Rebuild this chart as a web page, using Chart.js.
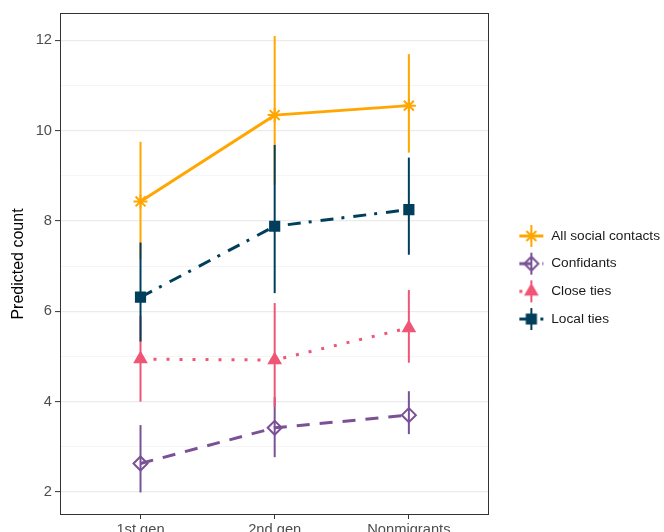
<!DOCTYPE html>
<html>
<head>
<meta charset="utf-8">
<script src="https://cdn.jsdelivr.net/npm/chart.js"></script>
<style>
  html, body { margin: 0; padding: 0; background: #fff; overflow: hidden; }
</style>
</head>
<body>
<canvas id="chart" width="664" height="546"></canvas>
<script>
// Categorías y series
const categories = ['1st gen', '2nd gen', 'Nonmigrants'];
const seriesNames = ['All social contacts', 'Confidants', 'Close ties', 'Local ties'];

const allSocial   = [8.43, 10.34, 10.55];
const allSocialLo = [7.15, 8.80, 9.51];
const allSocialHi = [9.75, 12.09, 11.69];

const confidants   = [2.63, 3.42, 3.70];
const confidantsLo = [1.99, 2.77, 3.28];
const confidantsHi = [3.48, 4.10, 4.23];

const closeTies   = [4.94, 4.92, 5.63];
const closeTiesLo = [4.00, 3.88, 4.86];
const closeTiesHi = [5.90, 6.18, 6.47];

const localTies   = [6.31, 7.88, 8.25];
const localTiesLo = [5.33, 6.40, 7.25];
const localTiesHi = [7.52, 9.68, 9.40];

const yTicks = [2, 3, 4, 5, 6, 7, 8, 9, 10, 11, 12];

const colors = ['#FFA600', '#7A5195', '#EF5675', '#003F5C'];
const dashes = [[], [13, 10], [3, 10], [13, 8, 3, 9]];
const markers = ['star', 'rectRot', 'triangle', 'rect'];
const radii = [7, 7, 6.5, 6.5];
const fills = ['transparent', 'transparent', '#EF5675', '#003F5C'];

const values = [allSocial, confidants, closeTies, localTies];
const lows = [allSocialLo, confidantsLo, closeTiesLo, localTiesLo];
const highs = [allSocialHi, confidantsHi, closeTiesHi, localTiesHi];

const font = 'Liberation Sans, Arial, sans-serif';

// Iconos de la leyenda (línea + barra de error + marcador)
function keyIcon(i) {
    const c = document.createElement('canvas');
    c.width = 26; c.height = 24;
    const g = c.getContext('2d');
    g.strokeStyle = colors[i];
    g.lineWidth = 2;
    g.beginPath(); g.moveTo(13, 1); g.lineTo(13, 23); g.stroke();
    g.lineWidth = 3;
    g.setLineDash(dashes[i]);
    g.beginPath(); g.moveTo(1, 12); g.lineTo(25, 12); g.stroke();
    g.setLineDash([]);
    g.fillStyle = fills[i];
    g.lineWidth = 2;
    Chart.helpers.drawPoint(g, { pointStyle: markers[i], radius: radii[i], borderWidth: 2, rotation: 0 }, 13, 12);
    return c;
}
const icons = seriesNames.map((n, i) => keyIcon(i));

const errorBars = {
    id: 'errorBars',
    beforeDatasetsDraw(chart) {
        const { ctx, scales: { x, y } } = chart;
        values.forEach((vals, i) => {
            ctx.save();
            ctx.strokeStyle = colors[i];
            ctx.lineWidth = 2;
            vals.forEach((v, j) => {
                const px = x.getPixelForValue(j);
                ctx.beginPath();
                ctx.moveTo(px, y.getPixelForValue(lows[i][j]));
                ctx.lineTo(px, y.getPixelForValue(highs[i][j]));
                ctx.stroke();
            });
            ctx.restore();
        });
    }
};

const panelBorder = {
    id: 'panelBorder',
    afterDatasetsDraw(chart) {
        const { ctx, chartArea: a } = chart;
        ctx.save();
        ctx.strokeStyle = '#333';
        ctx.lineWidth = 1;
        ctx.strokeRect(Math.round(a.left) + 0.5, Math.round(a.top) + 0.5,
            Math.round(a.right - a.left) - 1, Math.round(a.bottom - a.top) - 1);
        ctx.restore();
    }
};

new Chart(document.getElementById('chart'), {
    type: 'line',
    data: {
        datasets: seriesNames.map((name, i) => ({
            label: name,
            data: values[i].map((v, j) => ({ x: j, y: v })),
            borderColor: colors[i],
            backgroundColor: fills[i],
            borderWidth: 3,
            borderDash: dashes[i],
            pointStyle: markers[i],
            pointRadius: radii[i],
            pointBorderWidth: 2,
            pointBackgroundColor: fills[i],
            pointBorderColor: colors[i],
            fill: false,
            tension: 0
        }))
    },
    plugins: [errorBars, panelBorder],
    options: {
        responsive: false,
        devicePixelRatio: 1,
        animation: false,
        layout: { padding: { top: 13, bottom: 4, left: 0, right: -6 } },
        plugins: {
            tooltip: { enabled: false },
            legend: {
                position: 'right',
                labels: {
                    usePointStyle: true,
                    pointStyleWidth: 26,
                    padding: 14,
                    color: '#1a1a1a',
                    font: { family: font, size: 13.7 },
                    generateLabels: () => seriesNames.map((n, i) => ({
                        text: n,
                        pointStyle: icons[i],
                        fontColor: '#1a1a1a',
                        fillStyle: 'transparent',
                        strokeStyle: 'transparent',
                        lineWidth: 0,
                        hidden: false,
                        datasetIndex: i
                    }))
                }
            }
        },
        scales: {
            x: {
                type: 'linear',
                min: -0.6,
                max: 2.6,
                afterBuildTicks: axis => { axis.ticks = categories.map((c, i) => ({ value: i })); },
                afterFit: scale => { scale.height = 27; },
                ticks: {
                    callback: v => categories[v],
                    color: '#4d4d4d',
                    font: { family: font, size: 14.7 },
                    padding: 2,
                    maxRotation: 0
                },
                grid: { drawOnChartArea: false, tickLength: 4, tickColor: '#333', tickWidth: 1 },
                border: { display: false }
            },
            y: {
                min: 1.49,
                max: 12.6,
                afterBuildTicks: axis => { axis.ticks = yTicks.map(v => ({ value: v })); },
                afterFit: scale => { scale.width = 60; },
                ticks: {
                    callback: v => (v % 2 === 0 ? v : ''),
                    color: '#4d4d4d',
                    font: { family: font, size: 14.7 },
                    padding: 3
                },
                grid: {
                    color: c => (c.tick && c.tick.value % 2 === 0 ? '#ebebeb' : '#f2f2f2'),
                    lineWidth: c => (c.tick && c.tick.value % 2 === 0 ? 1.2 : 0.8),
                    tickColor: c => (c.tick && c.tick.value % 2 === 0 ? '#333' : 'rgba(0,0,0,0)'),
                    tickLength: 5,
                    tickWidth: 1
                },
                border: { display: false },
                title: {
                    display: true,
                    text: 'Predicted count',
                    color: '#000',
                    font: { family: font, size: 16 },
                    padding: { top: 9, bottom: 3 }
                }
            },
            gap: {
                position: 'right',
                display: false,
                afterFit: scale => { scale.width = 15; }
            }
        }
    }
});
</script>
</body>
</html>
